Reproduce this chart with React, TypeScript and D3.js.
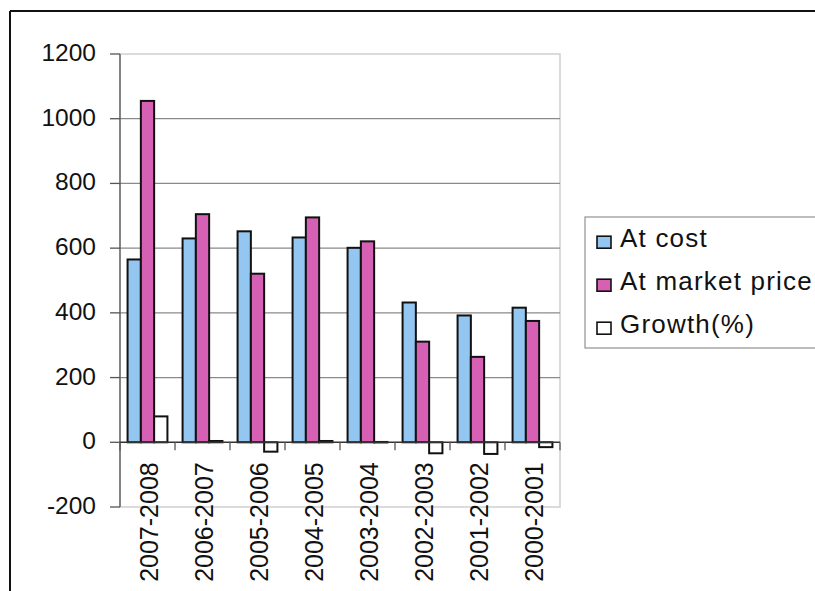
import React from "react";
import * as d3 from "d3";

// Periods shown on the category axis, newest first
const periods = [
  "2007-2008",
  "2006-2007",
  "2005-2006",
  "2004-2005",
  "2003-2004",
  "2002-2003",
  "2001-2002",
  "2000-2001",
];

// Series values per period
const atCost = [565, 630, 652, 633, 601, 432, 392, 416];
const atMarketPrice = [1055, 705, 521, 695, 621, 311, 264, 375];
const growth = [80, 4, -29, 4, 1, -34, -36, -15];

const seriesNames = ["At cost", "At market price", "Growth(%)"];
const yTicks = [-200, 0, 200, 400, 600, 800, 1000, 1200];

const W = 815;
const H = 591;
const FONT = "'Liberation Sans', Arial, Helvetica, sans-serif";
const COLORS = ["#93c6f0", "#d660b4", "#ffffff"];

export default function App() {
  const plot = { left: 120, right: 560, top: 54, bottom: 507 };

  const y = d3.scaleLinear().domain([-200, 1200]).range([plot.bottom, plot.top]);
  const x = d3.scaleBand<string>().domain(periods).range([plot.left, plot.right]);
  const inner = d3
    .scaleBand<string>()
    .domain(seriesNames)
    .range([0, x.bandwidth()])
    .paddingInner(0)
    .paddingOuter(0.57);

  const seriesValues = [atCost, atMarketPrice, growth];
  const y0 = y(0);

  const gridValues = yTicks.filter((v) => v !== -200 && v !== 1200 && v !== 0);

  return (
    <svg
      width={W}
      height={H}
      style={{ position: "absolute", left: 0, top: 0, background: "#fff" }}
      fontFamily={FONT}
    >
      <rect x={0} y={0} width={W} height={H} fill="#fff" />

      {/* chart frame */}
      <line x1={10} y1={11} x2={W} y2={11} stroke="#111" strokeWidth={2} />
      <line x1={10} y1={11} x2={10} y2={H} stroke="#111" strokeWidth={2} />

      {/* plot area border */}
      <rect
        x={plot.left}
        y={plot.top}
        width={plot.right - plot.left}
        height={plot.bottom - plot.top}
        fill="none"
        stroke="#cfcfcf"
        strokeWidth={1.5}
      />

      {/* gridlines */}
      {gridValues.map((v) => (
        <line
          key={v}
          x1={plot.left}
          x2={plot.right}
          y1={y(v)}
          y2={y(v)}
          stroke="#8a8a8a"
          strokeWidth={1.3}
        />
      ))}

      {/* value axis */}
      <line x1={plot.left} x2={plot.left} y1={plot.top} y2={plot.bottom} stroke="#555" strokeWidth={1.3} />
      {yTicks.map((v) => (
        <g key={v}>
          <line x1={plot.left - 10} x2={plot.left} y1={y(v)} y2={y(v)} stroke="#555" strokeWidth={1.3} />
          <text x={96} y={y(v) + 7} textAnchor="end" fontSize={24.5} fill="#111">
            {v}
          </text>
        </g>
      ))}

      {/* bars */}
      {periods.map((p, i) => (
        <g key={p} transform={`translate(${x(p)},0)`}>
          {seriesNames.map((s, j) => {
            const v = seriesValues[j][i];
            const top = Math.min(y(v), y0);
            const h = Math.max(Math.abs(y(v) - y0), 0.5);
            return (
              <rect
                key={s}
                x={inner(s)}
                y={top}
                width={inner.bandwidth()}
                height={h}
                fill={COLORS[j]}
                stroke="#111"
                strokeWidth={2}
              />
            );
          })}
        </g>
      ))}

      {/* category axis at zero */}
      <line x1={plot.left} x2={plot.right} y1={y0} y2={y0} stroke="#333" strokeWidth={1.5} />
      {d3.range(periods.length + 1).map((k) => {
        const xx = plot.left + k * x.step();
        return <line key={k} x1={xx} x2={xx} y1={y0} y2={y0 + 8} stroke="#555" strokeWidth={1.3} />;
      })}
      {periods.map((p) => {
        const cx = (x(p) as number) + x.bandwidth() / 2 + 10;
        return (
          <text
            key={p}
            transform={`translate(${cx},${y0 + 20}) rotate(-90)`}
            textAnchor="end"
            fontSize={25}
            fill="#111"
          >
            {p}
          </text>
        );
      })}

      {/* legend */}
      <rect x={585} y={217} width={W - 585 + 10} height={131} fill="#fff" stroke="#9a9a9a" strokeWidth={1.3} />
      {seriesNames.map((s, j) => {
        const base = 246.7 + j * 43;
        return (
          <g key={s}>
            <rect
              x={597}
              y={base - 10.5}
              width={14}
              height={12}
              fill={COLORS[j]}
              stroke="#111"
              strokeWidth={1.6}
            />
            <text x={620} y={base} fontSize={26} letterSpacing={1.2} fill="#111">
              {s}
            </text>
          </g>
        );
      })}
    </svg>
  );
}
